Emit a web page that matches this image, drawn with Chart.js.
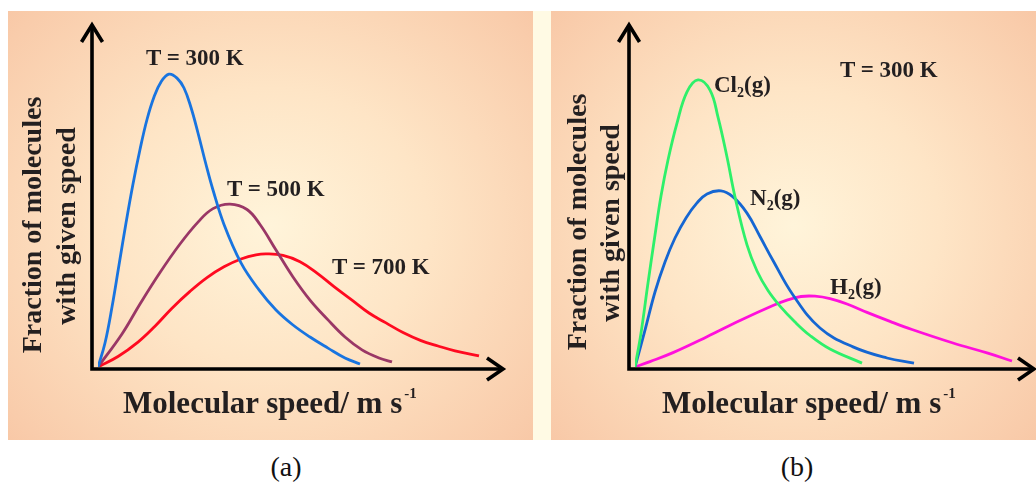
<!DOCTYPE html>
<html>
<head>
<meta charset="utf-8">
<script src="https://cdn.jsdelivr.net/npm/chart.js@4.4.1/dist/chart.umd.min.js"></script>
<style>
  html, body { margin: 0; padding: 0; background: #fff; }
  body { width: 1036px; height: 484px; position: relative; overflow: hidden; font-family: 'Liberation Serif', serif; }
  .panel { position: absolute; top: 11px; height: 429px;
    background: radial-gradient(ellipse 75% 80% at 50% 50%, #fff4da 0%, #fee5c6 40%, #f9ccab 85%, #f7c3a1 100%); }
  #panelA { left: 8px; width: 525px; }
  #panelB { left: 551px; width: 485px; }
  #strip { position: absolute; left: 533px; top: 11px; width: 18px; height: 429px; background: #fffae4; }
  .panel canvas { position: absolute; left: 0; top: 0; }
  .lbl { position: absolute; font: bold 23px 'Liberation Serif', serif; line-height: 1; white-space: nowrap; color: #231f20; }
  .sub { font-size: 14px; position: relative; top: 5px; }
  .xt { position: absolute; font: bold 31px 'Liberation Serif', serif; line-height: 1; white-space: nowrap; color: #231f20; }
  .sup { font-size: 15px; position: relative; top: -15px; margin-left: 2px; }
  .yt { position: absolute; font: bold 28px 'Liberation Serif', serif; line-height: 1; white-space: nowrap; color: #231f20;
    transform: translate(-50%, -50%) rotate(-90deg); }
  .cap { position: absolute; font: 28px 'Liberation Serif', serif; line-height: 1; color: #111; transform: translate(-50%, -50%); }
</style>
</head>
<body>
<div id="panelA" class="panel"><canvas id="chartA" width="525" height="429"></canvas></div>
<div id="strip"></div>
<div id="panelB" class="panel"><canvas id="chartB" width="485" height="429"></canvas></div>

<div class="lbl" style="left:146px; top:46px">T = 300 K</div>
<div class="lbl" style="left:227px; top:177px">T = 500 K</div>
<div class="lbl" style="left:332px; top:255px">T = 700 K</div>
<div class="yt" style="left:32px; top:225px">Fraction of molecules</div>
<div class="yt" style="left:66px; top:226px">with given speed</div>
<div class="xt" style="left:123px; top:387px">Molecular speed/ m s<span class="sup">-1</span></div>
<div class="cap" style="left:286px; top:467px">(a)</div>

<div class="lbl" style="left:840px; top:58px">T = 300 K</div>
<div class="lbl" style="left:714px; top:73px">Cl<span class="sub">2</span>(g)</div>
<div class="lbl" style="left:750px; top:186px">N<span class="sub">2</span>(g)</div>
<div class="lbl" style="left:830px; top:275px">H<span class="sub">2</span>(g)</div>
<div class="yt" style="left:577px; top:222px">Fraction of molecules</div>
<div class="yt" style="left:610px; top:223px">with given speed</div>
<div class="xt" style="left:662px; top:387px">Molecular speed/ m s<span class="sup">-1</span></div>
<div class="cap" style="left:797px; top:467px">(b)</div>

<script>
// (a) same gas at three temperatures
let speedA300 = [0, 35, 70, 105, 140, 175, 210, 245, 280, 315, 355, 395, 430, 465, 500, 540, 575, 630, 715, 805, 890, 975, 1060, 1150, 1235, 1310];
let fracA300  = [0, 8, 20, 34, 48, 61, 72.5, 82.5, 90, 95, 97.6, 96.3, 93, 86.5, 78, 67.5, 59, 47.5, 34.7, 25.7, 19, 14, 10, 6.3, 3, 1];
let speedA500 = [0, 120, 210, 310, 410, 500, 575, 660, 745, 810, 890, 975, 1060, 1150, 1235, 1320, 1405, 1470];
let fracA500  = [0, 11, 21, 31.5, 41, 48.3, 52.8, 54.3, 52.5, 47.5, 39, 30, 22.3, 15.7, 10, 5.7, 3, 1.7];
let speedA700 = [0, 100, 200, 285, 370, 460, 545, 630, 715, 790, 845, 925, 1010, 1095, 1180, 1270, 1355, 1440, 1525, 1615, 1700, 1785, 1905];
let fracA700  = [0, 3.5, 8.3, 13.6, 19.6, 25.2, 29.8, 33.4, 36, 37.4, 37.7, 37.2, 35.1, 31.3, 26.8, 22.3, 18, 14.7, 11.5, 8.8, 7, 5.4, 3.7];

// (b) three gases at 300 K
let speedCl2 = [0, 30, 65, 100, 130, 165, 210, 260, 315, 375, 415, 460, 500, 560, 610, 665, 725, 800, 875, 975, 1135];
let fracCl2  = [0, 11.3, 28, 44, 57, 69, 81.3, 91.7, 95.7, 92.3, 83.3, 70, 56.7, 40.7, 32, 25.5, 20.3, 15, 10.5, 6, 1.3];
let speedN2  = [0, 50, 100, 150, 200, 255, 310, 360, 430, 490, 560, 625, 690, 790, 925, 1090, 1260, 1395];
let fracN2   = [0, 12.3, 25, 35, 43, 49.7, 54.7, 57.7, 58.7, 56.7, 51.3, 43.5, 35.5, 24, 13, 6.7, 3, 1.3];
let speedH2  = [0, 75, 190, 360, 525, 690, 760, 830, 900, 975, 1060, 1160, 1275, 1385, 1590, 1760, 1885];
let fracH2   = [0, 1.8, 4.8, 10.1, 15.5, 20.5, 22.3, 23.5, 23.6, 22.8, 21, 18.2, 15.2, 12.5, 8, 4.7, 2];

function pts(xs, ys) {
  return xs.map((x, i) => ({ x: x, y: ys[i] }));
}

function curve(xs, ys, color) {
  return {
    data: pts(xs, ys),
    borderColor: color,
    borderWidth: 2.8,
    pointRadius: 0,
    fill: false,
    tension: 0.4
  };
}

/* assi neri con freccia aperta in cima e a destra */
const axisArrows = {
  id: 'axisArrows',
  beforeDatasetsDraw(chart, args, opts) {
    const ctx = chart.ctx;
    const a = chart.chartArea;
    const x0 = a.left - opts.gapX;
    const y0 = a.bottom + opts.gapY;
    const top = a.top - opts.overTop;
    const right = a.right + opts.overRight;
    ctx.save();
    ctx.strokeStyle = '#000';
    ctx.lineWidth = 3.6;
    ctx.lineCap = 'butt';
    ctx.lineJoin = 'miter';
    ctx.beginPath();
    ctx.moveTo(x0, top + 2);
    ctx.lineTo(x0, y0);
    ctx.lineTo(right - 2, y0);
    ctx.stroke();
    ctx.beginPath();
    ctx.moveTo(x0 - 10.5, top + 18);
    ctx.lineTo(x0, top + 1);
    ctx.lineTo(x0 + 10.5, top + 18);
    ctx.moveTo(right - 17, y0 - 11);
    ctx.lineTo(right - 1, y0);
    ctx.lineTo(right - 17, y0 + 11);
    ctx.stroke();
    ctx.restore();
  }
};

function makeChart(id, datasets, pad, arrows) {
  return new Chart(id, {
    type: 'line',
    data: { datasets: datasets },
    options: {
      responsive: false,
      animation: false,
      events: [],
      layout: { padding: pad },
      scales: {
        x: { type: 'linear', min: 0, max: 2000, display: false },
        y: { min: 0, max: 100, display: false }
      },
      plugins: {
        legend: { display: false },
        tooltip: { enabled: false },
        axisArrows: arrows
      }
    },
    plugins: [axisArrows]
  });
}

makeChart('chartA', [
  curve(speedA300, fracA300, '#1874e0'),
  curve(speedA500, fracA500, '#9a3766'),
  curve(speedA700, fracA700, '#ff0a20')
], { left: 90, top: 56, right: 35, bottom: 73 }, { gapX: 6, gapY: 2, overTop: 43, overRight: 6 });

makeChart('chartB', [
  curve(speedCl2, fracCl2, '#2ef06a'),
  curve(speedN2, fracN2, '#1566d2'),
  curve(speedH2, fracH2, '#ff10dc')
], { left: 84, top: 56, right: 1, bottom: 73 }, { gapX: 6, gapY: 2, overTop: 43, overRight: 0 });
</script>
</body>
</html>
